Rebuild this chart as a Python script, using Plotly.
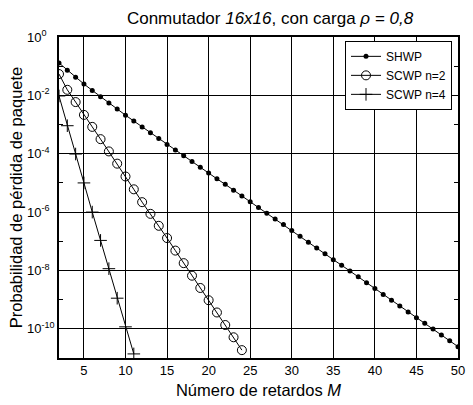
import plotly.graph_objects as go

# ---- data ----
x_shwp = list(range(2, 51))
p_shwp = [1.29e-1, 7.24e-2, 4.17e-2, 2.45e-2, 1.48e-2, 8.91e-3, 5.50e-3, 3.39e-3,
          2.09e-3, 1.32e-3, 8.32e-4, 5.25e-4, 3.31e-4, 2.09e-4, 1.35e-4, 8.51e-5,
          5.37e-5, 3.47e-5, 2.19e-5, 1.38e-5, 8.91e-6, 5.62e-6, 3.55e-6, 2.24e-6,
          1.45e-6, 9.12e-7, 5.75e-7, 3.72e-7, 2.34e-7, 1.48e-7, 9.33e-8, 5.89e-8,
          3.72e-8, 2.34e-8, 1.51e-8, 9.55e-9, 6.03e-9, 3.80e-9, 2.40e-9, 1.51e-9,
          9.55e-10, 6.03e-10, 3.80e-10, 2.40e-10, 1.55e-10, 9.77e-11, 6.17e-11,
          3.89e-11, 2.45e-11]

x_n2 = list(range(2, 25))
p_n2 = [5.37e-2, 1.55e-2, 5.89e-3, 2.14e-3, 8.32e-4, 3.16e-4, 1.20e-4, 4.57e-5,
        1.66e-5, 6.03e-6, 2.19e-6, 8.71e-7, 3.39e-7, 1.29e-7, 4.79e-8, 1.78e-8,
        6.61e-9, 2.51e-9, 9.55e-10, 3.63e-10, 1.35e-10, 5.13e-11, 1.86e-11]

x_n4 = list(range(2, 12))
p_n4 = [9.55e-3, 9.12e-4, 9.77e-5, 1.00e-5, 1.00e-6, 1.07e-7, 1.15e-8, 1.12e-9,
        1.17e-10, 1.38e-11]

series_names = ["SHWP", "SCWP n=2", "SCWP n=4"]

x_tickvals = [5, 10, 15, 20, 25, 30, 35, 40, 45, 50]
y_tickvals = [1, 1e-2, 1e-4, 1e-6, 1e-8, 1e-10]
y_exponents = ["0", "-2", "-4", "-6", "-8", "-10"]
y_pad = ["-1", "0", "0", "0", "0", ""]
y_minor = [1e-1, 1e-3, 1e-5, 1e-7, 1e-9, 1e-11]

y_ticktext = [
    "10<sup>%s<span style='color:white'>%s</span></sup>" % (e, p) if p else "10<sup>%s</sup>" % e
    for e, p in zip(y_exponents, y_pad)
]

FONT = "Liberation Sans, Arial, sans-serif"

fig = go.Figure()
fig.add_trace(go.Scatter(
    x=x_shwp, y=p_shwp, name=series_names[0], mode="lines+markers",
    line=dict(color="black", width=1),
    marker=dict(symbol="circle", size=5, color="black"),
))
fig.add_trace(go.Scatter(
    x=x_n2, y=p_n2, name=series_names[1], mode="lines+markers",
    line=dict(color="black", width=1),
    marker=dict(symbol="circle-open", size=9, color="black", line=dict(width=1)),
))
fig.add_trace(go.Scatter(
    x=x_n4, y=p_n4, name=series_names[2], mode="lines+markers",
    line=dict(color="black", width=1),
    marker=dict(symbol="cross-thin-open", size=9, color="black", line=dict(width=1, color="black")),
))

fig.update_layout(
    width=473, height=405,
    margin=dict(l=59, r=8, t=37, b=46),
    paper_bgcolor="white", plot_bgcolor="white",
    font=dict(family=FONT, size=13, color="black"),
    title=dict(
        text="Conmutador <i>16x16</i>, con carga <i>ρ = 0,8</i>",
        font=dict(family=FONT, size=17, color="black"),
        x=270 / 473, xref="container", xanchor="center",
        y=1 - 18 / 405, yref="container", yanchor="middle",
    ),
    showlegend=True,
    legend=dict(
        x=0.985, y=0.988, xanchor="right", yanchor="top",
        bgcolor="white", bordercolor="black", borderwidth=1,
        font=dict(family=FONT, size=12, color="black"),
        itemwidth=30, tracegroupgap=0,
    ),
    xaxis=dict(
        range=[2, 50], tickmode="array", tickvals=x_tickvals,
        showgrid=True, gridcolor="black", gridwidth=1,
        showline=True, linecolor="black", linewidth=1.5, mirror="ticks",
        ticks="inside", ticklen=4, tickcolor="black",
        zeroline=False,
        tickfont=dict(family=FONT, size=13, color="black"),
        title=dict(text="Número de retardos <i>M</i>", standoff=7,
                   font=dict(family=FONT, size=16.5, color="black")),
    ),
    yaxis=dict(
        type="log", range=[-11, 0],
        tickmode="array", tickvals=y_tickvals, ticktext=y_ticktext,
        showgrid=True, gridcolor="black", gridwidth=1,
        showline=True, linecolor="black", linewidth=1.5, mirror="ticks",
        ticks="inside", ticklen=4, tickcolor="black",
        zeroline=False,
        tickfont=dict(family=FONT, size=13, color="black"),
        ticklabelstandoff=0,
        minor=dict(tickmode="array", tickvals=y_minor, ticks="inside",
                   ticklen=4, tickcolor="black", showgrid=False),
        title=dict(text="Probabilidad de pérdida de paquete", standoff=0,
                   font=dict(family=FONT, size=16.5, color="black")),
    ),
)

fig.write_html("out.html")
